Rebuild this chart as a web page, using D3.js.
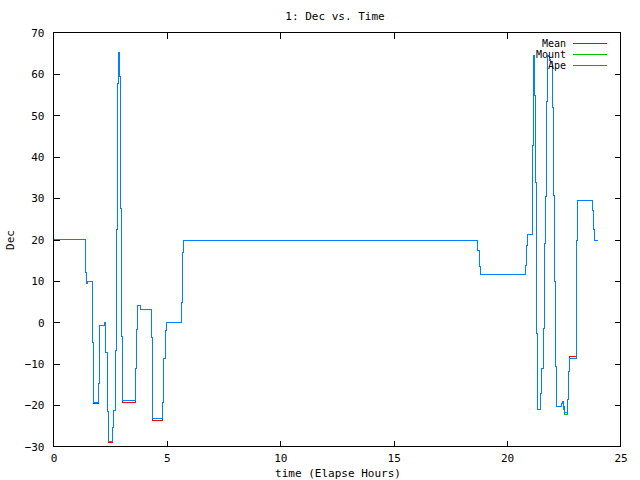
<!DOCTYPE html>
<html><head><meta charset="utf-8">
<script src="https://cdn.jsdelivr.net/npm/d3@7"></script>
<style>body{margin:0;background:#fff}text{font-family:"DejaVu Sans Mono",monospace;font-size:11px;fill:#000}</style>
</head><body><svg id="c" width="640" height="480"></svg>
<script>
const title = "1: Dec vs. Time";
const xLabel = "time (Elapse Hours)";
const yLabel = "Dec";
const xTicks = [0,5,10,15,20,25];
const yTicks = [-30,-20,-10,0,10,20,30,40,50,60,70];
const seriesNames = ["Mean","Mount","Ape"];
const seriesColors = ["#ff0000","#00c000","#0080ff"];
const times = [0,1.40,1.43,1.47,1.51,1.73,1.78,1.97,2.01,2.04,2.26,2.31,2.37,2.41,2.59,2.63,2.72,2.76,2.81,2.84,2.88,2.92,2.94,2.97,3.00,3.03,3.63,3.67,3.72,3.82,4.31,4.35,4.38,4.82,4.86,4.92,5.00,5.66,5.69,5.73,18.71,18.77,18.81,20.80,20.84,20.89,21.13,21.16,21.21,21.25,21.30,21.34,21.46,21.49,21.53,21.60,21.65,21.71,21.75,21.78,21.81,21.86,21.90,22.00,22.03,22.10,22.15,22.19,22.40,22.43,22.49,22.55,22.65,22.69,22.74,23.05,23.07,23.11,23.78,23.81,23.85,23.97];
const ape   = [20,17.4,12.1,9.3,9.8,-4.8,-19.3,-14.7,-5.5,-0.7,0.0,-7.2,-21.6,-28.7,-25.3,-21.2,-6.7,22.3,43.8,57.7,65.2,59.4,48.7,27.5,-3.4,-19.0,-11.2,-1.8,4.0,3.2,-3.7,-14.5,-23.3,-19.3,-8.8,-2.0,0.0,4.7,16.9,19.7,17.4,13.4,11.6,13.8,18.6,21.3,42.8,64.5,54.9,33.7,-2.7,-21.1,-20.3,-17.2,-11.2,-1.5,19.0,30.3,53.3,64.5,64.1,63.5,62.9,52.0,30.7,9.8,-10.6,-20.4,-19.6,-19.2,-20.4,-21.9,-18.6,-12.0,-8.7,0.7,19.8,29.5,27.1,22.3,19.8,19.8];
const mean  = [20,17.4,12.1,9.3,9.8,-4.8,-19.6,-14.7,-5.5,-0.7,0.0,-7.2,-21.6,-29.0,-25.3,-21.2,-6.7,22.3,43.8,57.7,65.2,59.4,48.5,27.5,-3.4,-19.3,-11.2,-1.8,4.0,3.2,-3.7,-14.5,-23.6,-19.3,-8.8,-2.0,0.0,4.7,16.9,19.7,17.4,13.4,11.6,13.8,18.6,21.3,42.8,64.5,54.9,33.7,-2.7,-21.1,-20.3,-17.2,-11.2,-1.5,19.0,30.3,53.3,64.5,64.1,63.3,62.9,52.0,30.7,9.8,-10.6,-20.4,-19.6,-19.2,-20.4,-21.9,-18.6,-12.0,-8.3,0.7,19.8,29.5,27.1,22.3,19.8,19.8];
const mount = [20,17.4,12.1,9.3,9.8,-4.8,-19.3,-14.7,-5.5,-0.7,0.0,-7.2,-21.6,-28.7,-25.3,-21.2,-6.7,22.3,43.8,57.7,65.2,59.4,48.7,27.5,-3.4,-19.0,-11.2,-1.8,4.0,3.2,-3.7,-14.5,-23.3,-19.3,-8.8,-2.0,0.0,4.7,16.9,19.7,17.4,13.4,11.6,13.8,18.6,21.3,42.8,64.5,54.9,33.7,-2.7,-21.1,-20.3,-17.2,-11.2,-1.5,19.0,30.3,53.3,64.5,64.1,63.5,62.9,52.0,30.7,9.8,-10.6,-20.4,-19.6,-19.5,-21.0,-22.2,-18.6,-12.0,-8.7,0.7,19.8,29.5,27.1,22.3,19.8,19.8];
const seriesValues = [mean, mount, ape];

const L=53, R=620, T=32, B=446;
const svg = d3.select("#c");
const x = d3.scaleLinear().domain([0,25]).range([L,R]);
const y = d3.scaleLinear().domain([-30,70]).range([B,T]);

// series
const line = d3.line().x(d=>Math.round(x(d[0]))+0.5).y(d=>Math.round(y(d[1]))+0.5).curve(d3.curveStepAfter);
seriesValues.forEach((vals,i)=>{
  const pts = times.map((t,j)=>[t,vals[j]]);
  svg.append("path").attr("d",line(pts)).attr("fill","none")
    .attr("stroke",seriesColors[i]).attr("stroke-width",1).attr("shape-rendering","crispEdges");
});

// border
svg.append("rect").attr("x",L+0.5).attr("y",T+0.5).attr("width",R-L).attr("height",B-T)
  .attr("fill","none").attr("stroke","#000").attr("shape-rendering","crispEdges");

// axes (inward ticks, mirrored)
const tk = 6;
const gx = svg.append("g").attr("transform",`translate(0.5,${B+0.5})`)
  .call(d3.axisBottom(x).tickValues(xTicks).tickSizeInner(-tk).tickSizeOuter(0).tickPadding(10));
const gxt = svg.append("g").attr("transform",`translate(0.5,${T+0.5})`)
  .call(d3.axisTop(x).tickValues(xTicks.slice(1,-1)).tickSizeInner(-tk).tickSizeOuter(0).tickFormat(""));
const gy = svg.append("g").attr("transform",`translate(${L+0.5},0.5)`)
  .call(d3.axisLeft(y).tickValues(yTicks).tickSizeInner(-tk).tickSizeOuter(0).tickPadding(9));
const gyr = svg.append("g").attr("transform",`translate(${R+0.5},0.5)`)
  .call(d3.axisRight(y).tickValues(yTicks.slice(1,-1)).tickSizeInner(-tk).tickSizeOuter(0).tickFormat(""));
[gx,gxt,gy,gyr].forEach(g=>{
  g.select(".domain").remove();
  g.selectAll("line").attr("stroke","#000").attr("shape-rendering","crispEdges");
  g.selectAll("text").attr("font-family","DejaVu Sans Mono, monospace").attr("font-size",11).attr("fill","#000");
});
gx.selectAll("text").attr("dy","0.5em");
gy.selectAll("text").attr("dy","0.35em");
gx.selectAll(".tick line").filter(d=>d===0||d===25).remove();
gy.selectAll(".tick line").filter(d=>d===-30||d===70).remove();

// titles
svg.append("text").attr("x",335).attr("y",20).attr("text-anchor","middle").text(title);
svg.append("text").attr("x",338).attr("y",477).attr("text-anchor","middle").text(xLabel);
svg.append("text").attr("transform","translate(14,240) rotate(-90)").attr("text-anchor","middle").text(yLabel);

// legend
seriesNames.forEach((n,i)=>{
  const yy = 43 + i*11;
  svg.append("text").attr("x",566).attr("y",yy).attr("dy","0.35em").attr("text-anchor","end")
    .style("font-size","10px").text(n);
  svg.append("line").attr("x1",573).attr("x2",607).attr("y1",yy+0.5).attr("y2",yy+0.5)
    .attr("stroke",seriesColors[i]).attr("shape-rendering","crispEdges");
});
</script></body></html>
